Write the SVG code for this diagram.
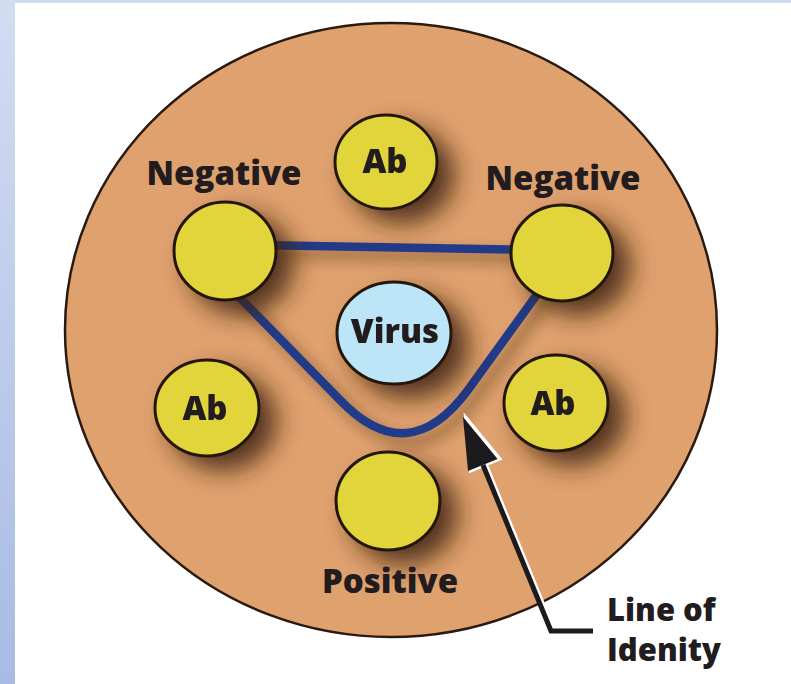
<svg xmlns="http://www.w3.org/2000/svg" width="791" height="684" viewBox="0 0 791 684">
  <defs>
    <linearGradient id="strip" x1="0" y1="0" x2="0" y2="1">
      <stop offset="0" stop-color="#d1ddf1"/>
      <stop offset="1" stop-color="#a8bbe3"/>
    </linearGradient>
    <filter id="sh" x="-60%" y="-60%" width="220%" height="220%">
      <feGaussianBlur in="SourceAlpha" stdDeviation="12" result="b"/>
      <feOffset in="b" dx="16" dy="13" result="o"/>
      <feFlood flood-color="#3e220e" flood-opacity="0.85"/>
      <feComposite in2="o" operator="in" result="s"/>
      <feMerge><feMergeNode in="s"/><feMergeNode in="SourceGraphic"/></feMerge>
    </filter>
    <filter id="shl" x="-20%" y="-20%" width="140%" height="140%">
      <feGaussianBlur in="SourceAlpha" stdDeviation="7" result="b"/>
      <feOffset in="b" dx="8" dy="8" result="o"/>
      <feFlood flood-color="#3e220e" flood-opacity="0.5"/>
      <feComposite in2="o" operator="in" result="s"/>
      <feMerge><feMergeNode in="s"/><feMergeNode in="SourceGraphic"/></feMerge>
    </filter>
  </defs>
  <style>
    .node { stroke: #24160e; stroke-width: 3; }
    .yel { fill: #e2d53b; }
    .vir { fill: #bde5f8; }
    .lbl { font-family: "Open Sans", "DejaVu Sans", sans-serif; font-weight: 800; font-size: 33px; fill: #221c1e; text-anchor: middle; }
    .call { font-family: "Open Sans", "DejaVu Sans", sans-serif; font-weight: 800; font-size: 31px; fill: #221c1e; }
    .idline { fill: none; stroke: #243b88; stroke-width: 8.5; stroke-linejoin: round; }
  </style>

  <rect x="0" y="0" width="791" height="684" fill="#ffffff"/>
  <rect x="0" y="0" width="791" height="3" fill="#cfdaf0"/>
  <rect x="0" y="0" width="15" height="684" fill="url(#strip)"/>

  <g id="background-circle">
    <ellipse cx="391" cy="330" rx="326" ry="307" fill="#dfa16e" stroke="#2a1a10" stroke-width="2.5"/>
  </g>

  <g id="connectors" filter="url(#shl)">
    <path class="idline" d="M 255 245 L 535 250"/>
    <path class="idline" d="M 232 290 L 245 303 L 340 400 Q 408 471 468 390 L 533 300 L 541 289"/>
  </g>

  <g id="ab-top" filter="url(#sh)">
    <ellipse class="node yel" cx="386" cy="162" rx="51" ry="47"/>
    <text class="lbl" x="385" y="173">Ab</text>
  </g>
  <g id="negative-left" filter="url(#sh)">
    <ellipse class="node yel" cx="225" cy="251" rx="51" ry="49"/>
  </g>
  <g id="negative-right" filter="url(#sh)">
    <ellipse class="node yel" cx="562" cy="253" rx="51" ry="48"/>
  </g>
  <g id="virus" filter="url(#sh)">
    <ellipse class="node vir" cx="394" cy="333" rx="57" ry="51"/>
    <text class="lbl" x="395" y="343">Virus</text>
  </g>
  <g id="ab-left" filter="url(#sh)">
    <ellipse class="node yel" cx="207" cy="408" rx="52" ry="48"/>
    <text class="lbl" x="205" y="420">Ab</text>
  </g>
  <g id="ab-right" filter="url(#sh)">
    <ellipse class="node yel" cx="556" cy="403" rx="52" ry="48"/>
    <text class="lbl" x="553" y="415">Ab</text>
  </g>
  <g id="positive" filter="url(#sh)">
    <ellipse class="node yel" cx="388" cy="501" rx="52" ry="49"/>
  </g>

  <g id="labels">
    <text class="lbl" x="224" y="185">Negative</text>
    <text class="lbl" x="563" y="190">Negative</text>
    <text class="lbl" x="390" y="593">Positive</text>
  </g>

  <g id="line-of-identity-callout">
    <g transform="translate(2.5,0)" fill="#ffffff" stroke="#ffffff">
      <polygon points="463,417 468,471 497.6,459" stroke-width="3" stroke-linejoin="miter"/>
      <line x1="483" y1="465" x2="551" y2="631" stroke-width="5"/>
    </g>
    <polygon points="463,417 468,471 497.6,459" fill="#1c1a1c"/>
    <polyline points="483,465 551,631 593,631" fill="none" stroke="#1c1a1c" stroke-width="5" stroke-linejoin="miter"/>
    <text class="call" x="607" y="621">Line of</text>
    <text class="call" x="607" y="661">Idenity</text>
  </g>
</svg>
